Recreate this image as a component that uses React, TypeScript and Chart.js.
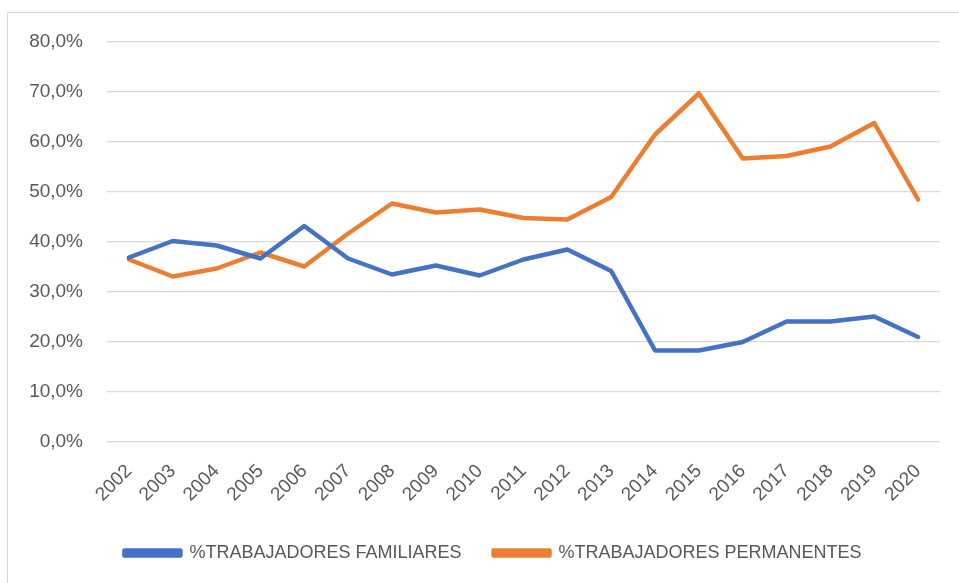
import React, { useEffect, useRef } from "react";
import { Chart, registerables } from "chart.js";

Chart.register(...registerables);

const years = ["2002","2003","2004","2005","2006","2007","2008","2009","2010","2011","2012","2013","2014","2015","2016","2017","2018","2019","2020"];
const familiares = [36.9, 40.2, 39.3, 36.7, 43.2, 36.7, 33.5, 35.3, 33.3, 36.5, 38.5, 34.2, 18.3, 18.3, 20.0, 24.1, 24.1, 25.1, 21.0];
const permanentes = [36.5, 33.1, 34.7, 37.9, 35.1, 41.7, 47.7, 45.9, 46.5, 44.8, 44.5, 49.0, 61.5, 69.7, 56.7, 57.2, 59.1, 63.8, 48.5];
const seriesNames = ["%TRABAJADORES FAMILIARES", "%TRABAJADORES PERMANENTES"];
const yTicksMin = 0;
const yTicksMax = 80;
const yTickStep = 10;

const FONT = "'Liberation Sans', Arial, sans-serif";
const TEXT = "#595959";

export default function App() {
  const ref = useRef<HTMLCanvasElement>(null);
  useEffect(() => {
    document.body.style.margin = "0";
    const chart = new Chart(ref.current!, {
      type: "line",
      data: {
        labels: years,
        datasets: [
          { label: seriesNames[0], data: familiares, borderColor: "#4472C4", backgroundColor: "#4472C4", borderWidth: 4.5, pointRadius: 0, borderCapStyle: "round", borderJoinStyle: "round", tension: 0 },
          { label: seriesNames[1], data: permanentes, borderColor: "#ED7D31", backgroundColor: "#ED7D31", borderWidth: 4.5, pointRadius: 0, borderCapStyle: "round", borderJoinStyle: "round", tension: 0 },
        ],
      },
      options: {
        animation: false,
        responsive: false,
        maintainAspectRatio: false,
        layout: { padding: { left: 27, right: 0, top: 42, bottom: 11 } },
        plugins: {
          tooltip: { enabled: false },
          legend: {
            position: "bottom",
            labels: { boxWidth: 56, boxHeight: 5, color: TEXT, font: { family: FONT, size: 18 }, padding: 32 },
          },
        },
        scales: {
          x: {
            offset: true,
            grid: { display: false, drawTicks: false },
            border: { display: false },
            ticks: { color: TEXT, font: { family: FONT, size: 19 }, minRotation: 45, maxRotation: 45, autoSkip: false, padding: 18 },
            afterFit: (s: any) => { s.height = 70; },
          },
          y: {
            min: yTicksMin,
            max: yTicksMax,
            grid: { color: "#d9d9d9", lineWidth: 1.3, drawTicks: false },
            border: { display: false },
            ticks: {
              stepSize: yTickStep,
              color: TEXT,
              font: { family: FONT, size: 19 },
              padding: 24,
              callback: (v: any) => Number(v).toFixed(1).replace(".", ",") + "%",
            },
            afterFit: (s: any) => { s.width = 80; },
          },
          y2: {
            position: "right",
            min: yTicksMin,
            max: yTicksMax,
            grid: { display: false, drawTicks: false },
            border: { display: false },
            ticks: { display: false },
            afterFit: (s: any) => { s.width = 19; },
          },
        },
      },
    });
    return () => chart.destroy();
  }, []);
  return (
    <div style={{ position: "relative", width: 959, height: 583, background: "#fff", overflow: "hidden" }}>
      <div style={{ position: "absolute", left: 7, top: 12, width: 1000, height: 600, borderLeft: "1.5px solid #d9d9d9", borderTop: "1.5px solid #d9d9d9" }} />
      <canvas ref={ref} width={959} height={583} style={{ position: "absolute", left: 0, top: 0 }} />
    </div>
  );
}
